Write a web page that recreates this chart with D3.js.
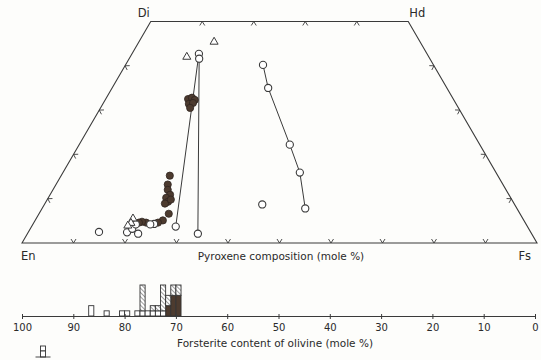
<!DOCTYPE html>
<html>
<head>
<meta charset="utf-8">
<script src="https://cdn.jsdelivr.net/npm/d3@7"></script>
<style>
  html, body { margin: 0; padding: 0; background: #fdfdfb; }
  svg { display: block; }
  text { font-family: "DejaVu Sans", sans-serif; fill: #2a2a2a; }
</style>
</head>
<body>
<svg id="chart" width="541" height="360"></svg>
<script>
// pyroxene points as [Wo, Fs] (mole %)
const trendRight = [[40.2, 26.7], [35.0, 30.3], [22.2, 40.9], [15.9, 46.0], [7.8, 51.1]];
const trendSlope = [[3.7, 28.0], [42.7, 13.0]];
const trendVertical = [[2.1, 33.1], [41.6, 13.6]];
const openCircles = [
  [8.7, 42.3], [42.7, 13.0], [41.6, 13.6], [3.7, 28.0], [2.1, 33.1],
  [2.5, 13.7], [2.4, 19.2], [3.2, 19.8], [2.1, 21.5], [4.2, 20.0],
  [4.3, 23.5], [4.2, 22.8]
];
const filledCircles = [
  [32.5, 16.0], [32.8, 16.6], [32.3, 17.4], [31.4, 16.7], [31.6, 17.4], [30.5, 17.4],
  [15.2, 21.1], [13.2, 21.7], [12.0, 22.3], [10.9, 23.3], [10.2, 22.9], [9.3, 23.7],
  [8.9, 23.3], [9.8, 24.0], [6.6, 25.2], [5.1, 24.8], [4.6, 24.1], [4.6, 21.8],
  [4.8, 20.9], [4.6, 20.4]
];
const triangles = [[42.0, 11.0], [45.4, 14.6], [5.5, 18.8], [4.5, 18.9], [3.9, 18.6]];
const gridTicks = [10, 20, 30, 40, 50, 60, 70, 80, 90];
const sideTicks = [10, 20, 30, 40];

// olivine histogram, bins of 1 mole % (lower edge)
const foBins = [86, 83, 80, 79, 77, 76, 75, 74, 73, 72, 71, 70, 69];
const darkCounts = [0, 0, 0, 0, 0, 0, 0, 0, 0, 0, 2, 4, 4];
const openCounts = [2, 1, 1, 1, 1, 1, 1, 1, 1, 1, 0, 0, 0];
const hatchCounts = [0, 0, 0, 0, 0, 5, 0, 1, 1, 5, 2, 2, 2];
const foTicks = [100, 90, 80, 70, 60, 50, 40, 30, 20, 10, 0];

const svg = d3.select('#chart');
const ink = '#3a3a3a';
const darkFill = '#4d3b2f';

const defs = svg.append('defs');
const pat = defs.append('pattern')
  .attr('id', 'hatch')
  .attr('patternUnits', 'userSpaceOnUse')
  .attr('width', 3).attr('height', 3)
  .attr('patternTransform', 'rotate(-45)');
pat.append('rect').attr('width', 3).attr('height', 3).attr('fill', '#fff');
pat.append('line').attr('x1', 0).attr('y1', 0).attr('x2', 0).attr('y2', 3)
  .attr('stroke', '#6a6a6a').attr('stroke-width', 1.3);

// ternary -> screen: x from (Fs + Wo/2), y from Wo
const xT = d3.scaleLinear().domain([0, 100]).range([22, 537]);
const yT = d3.scaleLinear().domain([0, 50]).range([243, 21.5]);
const px = d => xT(d[1] + d[0] / 2);
const py = d => yT(d[0]);

// quadrilateral En - Di - Hd - Fs as [Wo, Fs]
const corners = [[0, 0], [50, 0], [50, 50], [0, 100]];
svg.append('path')
  .attr('d', d3.line().x(px).y(py)(corners) + 'Z')
  .attr('fill', 'none').attr('stroke', ink).attr('stroke-width', 1.1);

// chevron ticks, vertex on the edge, arms into the field
function chevron(p, t, n) {
  const a = 2.5, b = 4;
  return `M${p[0] + a * t[0] + b * n[0]},${p[1] + a * t[1] + b * n[1]}` +
    `L${p[0]},${p[1]}` +
    `L${p[0] - a * t[0] + b * n[0]},${p[1] - a * t[1] + b * n[1]}`;
}
const unit = (a, b) => {
  const dx = b[0] - a[0], dy = b[1] - a[1], l = Math.hypot(dx, dy);
  return [dx / l, dy / l];
};
const P = d => [px(d), py(d)];
const tickPaths = [];
gridTicks.forEach(f => tickPaths.push(chevron(P([0, f]), [1, 0], [0, -1])));
sideTicks.forEach(f => tickPaths.push(chevron(P([50, f]), [1, 0], [0, 1])));
const tl = unit(P([0, 0]), P([50, 0]));
const tr = unit(P([0, 100]), P([50, 50]));
sideTicks.forEach(w => tickPaths.push(chevron(P([w, 0]), tl, [-tl[1], tl[0]])));
sideTicks.forEach(w => tickPaths.push(chevron(P([w, 100 - w]), tr, [tr[1], -tr[0]])));
svg.append('g').selectAll('path').data(tickPaths).enter().append('path')
  .attr('d', d => d).attr('fill', 'none').attr('stroke', ink).attr('stroke-width', 0.9);

// corner labels
svg.append('text').attr('x', px([50, 0]) - 1).attr('y', 17).attr('text-anchor', 'end')
  .style('font-size', '11.5px').text('Di');
svg.append('text').attr('x', px([50, 50]) + 1).attr('y', 17)
  .style('font-size', '11.5px').text('Hd');
svg.append('text').attr('x', 21).attr('y', 260).style('font-size', '11.5px').text('En');
svg.append('text').attr('x', 531).attr('y', 260).attr('text-anchor', 'end')
  .style('font-size', '11.5px').text('Fs');
svg.append('text').attr('x', 281).attr('y', 260).attr('text-anchor', 'middle')
  .style('font-size', '10.5px').text('Pyroxene composition (mole %)');

// trend lines
const line = d3.line().x(px).y(py);
[trendRight, trendSlope, trendVertical].forEach(tr => {
  svg.append('path').attr('d', line(tr)).attr('fill', 'none')
    .attr('stroke', ink).attr('stroke-width', 1);
});

svg.append('g').selectAll('circle').data(filledCircles).enter().append('circle')
  .attr('cx', px).attr('cy', py).attr('r', 3.6)
  .attr('fill', darkFill).attr('stroke', '#2e2520').attr('stroke-width', 0.8);

svg.append('g').selectAll('circle').data(openCircles.concat(trendRight)).enter().append('circle')
  .attr('cx', px).attr('cy', py).attr('r', 3.6)
  .attr('fill', '#fff').attr('stroke', ink).attr('stroke-width', 1.1);

const tri = d3.symbol().type(d3.symbolTriangle).size(28);
svg.append('g').selectAll('path').data(triangles).enter().append('path')
  .attr('d', tri)
  .attr('transform', d => `translate(${px(d)},${py(d)})`)
  .attr('fill', '#fff').attr('stroke', ink).attr('stroke-width', 1);

// olivine histogram
const xFo = d3.scaleLinear().domain([100, 0]).range([22, 535]);
const yC = d3.scaleLinear().domain([0, 6]).range([316, 285]);
const rows = foBins.map((b, i) => ({ bin: b, dark: darkCounts[i], open: openCounts[i], hatch: hatchCounts[i] }));
const keys = ['dark', 'open', 'hatch'];
const fills = { dark: darkFill, open: '#fff', hatch: 'url(#hatch)' };
const stacked = d3.stack().keys(keys)(rows);
stacked.forEach(layer => {
  svg.append('g').selectAll('rect').data(layer.filter(d => d[1] > d[0])).enter().append('rect')
    .attr('x', d => xFo(d.data.bin + 1))
    .attr('width', d => xFo(d.data.bin) - xFo(d.data.bin + 1))
    .attr('y', d => yC(d[1]))
    .attr('height', d => yC(d[0]) - yC(d[1]))
    .attr('fill', fills[layer.key])
    .attr('stroke', '#333').attr('stroke-width', 0.9);
});

const ax = svg.append('g').attr('transform', 'translate(0,316)')
  .call(d3.axisBottom(xFo).tickValues(foTicks).tickSize(3).tickSizeOuter(0).tickPadding(5));
ax.select('.domain').attr('stroke', ink).attr('stroke-width', 1.1);
ax.selectAll('.tick line').attr('y1', -2).attr('y2', 3).attr('stroke', ink);
ax.selectAll('.tick text').style('font-size', '10px')
  .style('font-family', '"DejaVu Sans", sans-serif').attr('fill', '#2a2a2a');

svg.append('text').attr('x', 275).attr('y', 347).attr('text-anchor', 'middle')
  .style('font-size', '10.5px').text('Forsterite content of olivine (mole %)');

// cut-off inset symbol near Fo 96
const inset = svg.append('g').attr('fill', '#fff').attr('stroke', '#333').attr('stroke-width', 0.9);
inset.append('rect').attr('x', xFo(96) - 2).attr('y', 346).attr('width', 5).attr('height', 5);
inset.append('rect').attr('x', xFo(96) - 2).attr('y', 351).attr('width', 5).attr('height', 6);
inset.append('line').attr('x1', xFo(96) - 7).attr('x2', xFo(96) + 8).attr('y1', 357).attr('y2', 357);
</script>
</body>
</html>
